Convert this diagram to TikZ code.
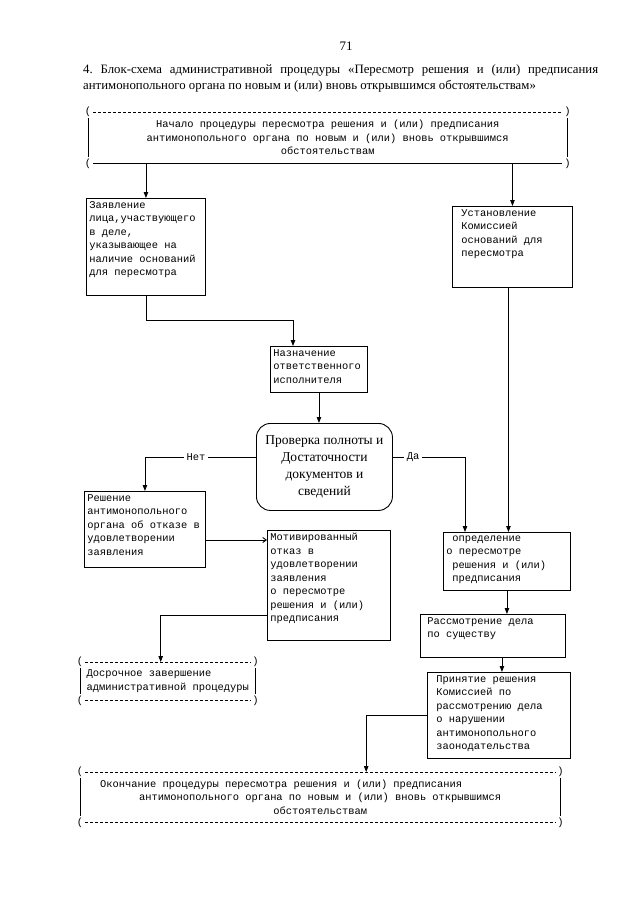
\documentclass[tikz,border=0pt]{standalone}
\usepackage{fontspec}
\setmainfont{Liberation Serif}
\setmonofont{Liberation Mono}
\usetikzlibrary{arrows.meta,calc}
\frenchspacing
\newcommand{\boxtext}[3]{\parbox[c][#2][t]{#1}{\raggedright #3}}
\tikzset{
  mono/.style={font=\ttfamily\fontsize{10.4}{13.5}\selectfont},
  procbox/.style={draw, line width=0.9pt, rectangle, inner sep=3pt, anchor=north west, mono},
  ln/.style={line width=0.9pt},
  arr/.style={line width=0.9pt, -{Triangle[length=6pt,width=4.5pt]}},
  openarr/.style={line width=0.9pt, -{Straight Barb[length=3.5pt,width=5pt]}},
  dashln/.style={line width=0.8pt, dash pattern=on 3pt off 2pt},
  lbl/.style={mono, fill=white, inner xsep=3pt, inner ysep=1pt},
  paren/.style={mono, inner sep=0pt},
  termbox/.style={inner sep=0pt, anchor=north west, mono, align=center}
}
\begin{document}
\begin{tikzpicture}[x=1pt,y=-1pt]
\useasboundingbox (0,0) rectangle (640,905);
\fill[white] (0,0) rectangle (640,905);

% header
\node[font=\fontsize{13}{15}\selectfont] (pnum) at (346,46) {71};
\node[anchor=north west, inner sep=0pt, font=\fontsize{12.8}{16}\selectfont] (title) at (83,64)
  {\parbox{515pt}{\frenchspacing\noindent 4. Блок-схема административной процедуры «Пересмотр решения и (или) предписания\linebreak антимонопольного органа по новым и (или) вновь открывшимся обстоятельствам»}};

% top terminal box
\node[termbox, minimum width=479, minimum height=51] (top) at (88,112)
  {Начало процедуры пересмотра решения и (или) предписания\\антимонопольного органа по новым и (или) вновь открывшимся\\обстоятельствам};
\draw[dashln] ($(top.north west)+(5,0)$) -- ($(top.north east)+(-5,0)$);
\draw[ln] ($(top.south west)+(5,0)$) -- ($(top.south east)+(-5,0)$);
\draw[ln] ($(top.north west)+(0,6)$) -- ($(top.south west)+(0,-6)$);
\draw[ln] ($(top.north east)+(0,6)$) -- ($(top.south east)+(0,-6)$);
\node[paren] (tp1) at (top.north west) {(};
\node[paren] (tp2) at (top.north east) {)};
\node[paren] (tp3) at (top.south west) {(};
\node[paren] (tp4) at (top.south east) {)};

% process boxes
\node[procbox] (zayav) at (86,198) {\boxtext{113pt}{91pt}{Заявление\\лица,участвующего\\в деле,\\указывающее на\\наличие оснований\\для пересмотра}};
\node[procbox] (ustan) at (452,206) {\boxtext{114pt}{75pt}{\hspace*{6pt}Установление\\\hspace*{6pt}Комиссией\\\hspace*{6pt}оснований для\\\hspace*{6pt}пересмотра}};
\node[procbox] (naznach) at (270,346) {\boxtext{91pt}{40pt}{Назначение\\ответственного\\исполнителя}};
\node[draw, ln, rounded corners=14pt, minimum width=136, minimum height=87, anchor=north west,
      align=center, font=\fontsize{13.5}{17}\selectfont] (dec) at (256,423)
  {Проверка полноты и\\Достаточности\\документов и\\сведений};
\node[procbox] (reshenie) at (84,491) {\boxtext{115pt}{70pt}{Решение\\антимонопольного\\органа об отказе в\\удовлетворении\\заявления}};
\node[procbox] (motiv) at (267,530) {\boxtext{117pt}{104pt}{Мотивированный\\отказ в\\удовлетворении\\заявления\\о пересмотре\\решения и (или)\\предписания}};
\node[procbox] (opred) at (443,532) {\boxtext{121pt}{52pt}{\hspace*{6pt}определение\\о пересмотре\\\hspace*{6pt}решения и (или)\\\hspace*{6pt}предписания}};
\node[procbox] (rassm) at (420,614) {\boxtext{139pt}{37pt}{\hspace*{4pt}Рассмотрение дела\\\hspace*{4pt}по существу}};
\node[procbox] (prin) at (427,672) {\boxtext{137pt}{80pt}{\hspace*{6pt}Принятие решения\\\hspace*{6pt}Комиссией по\\\hspace*{6pt}рассмотрению дела\\\hspace*{6pt}о нарушении\\\hspace*{6pt}антимонопольного\\\hspace*{6pt}заонодательства}};

% early termination box
\node[termbox, minimum width=175, minimum height=38, align=left] (dosroch) at (80,662)
  {Досрочное завершение\\административной процедуры};
\draw[dashln] ($(dosroch.north west)+(5,0)$) -- ($(dosroch.north east)+(-5,0)$);
\draw[dashln] ($(dosroch.south west)+(5,0)$) -- ($(dosroch.south east)+(-5,0)$);
\draw[ln] ($(dosroch.north west)+(0,6)$) -- ($(dosroch.south west)+(0,-6)$);
\draw[ln] ($(dosroch.north east)+(0,6)$) -- ($(dosroch.south east)+(0,-6)$);
\node[paren] (dp1) at (dosroch.north west) {(};
\node[paren] (dp2) at (dosroch.north east) {)};
\node[paren] (dp3) at (dosroch.south west) {(};
\node[paren] (dp4) at (dosroch.south east) {)};

% bottom terminal box
\node[termbox, minimum width=480, minimum height=50] (bot) at (80,772)
  {Окончание процедуры пересмотра решения и (или) предписания\hspace*{78pt}\\антимонопольного органа по новым и (или) вновь открывшимся\\обстоятельствам};
\draw[dashln] ($(bot.north west)+(5,0)$) -- ($(bot.north east)+(-5,0)$);
\draw[dashln] ($(bot.south west)+(5,0)$) -- ($(bot.south east)+(-5,0)$);
\draw[ln] ($(bot.north west)+(0,6)$) -- ($(bot.south west)+(0,-6)$);
\draw[ln] ($(bot.north east)+(0,6)$) -- ($(bot.south east)+(0,-6)$);
\node[paren] (bp1) at (bot.north west) {(};
\node[paren] (bp2) at (bot.north east) {)};
\node[paren] (bp3) at (bot.south west) {(};
\node[paren] (bp4) at (bot.south east) {)};

% connector anchor points
\coordinate (nazIn) at ($(naznach.north west)+(23,0)$);
\coordinate (decW) at ($(dec.west)+(0,-10)$);
\coordinate (decE) at ($(dec.east)+(0,-10)$);
\coordinate (opIn) at ($(opred.north west)+(22,0)$);
\coordinate (usOut) at ($(ustan.south)+(-4,0)$);
\coordinate (reOut) at ($(reshenie.north east)+(0,49)$);
\coordinate (moOut) at ($(motiv.north west)+(0,85)$);
\coordinate (doIn) at ($(dosroch.north)+(-7,0)$);
\coordinate (prIn) at ($(prin.north)+(3,0)$);
\coordinate (boIn) at ($(bot.north)+(46,0)$);

% connectors
\draw[arr] (zayav.north |- top.south) -- (zayav.north);
\draw[arr] (ustan.north |- top.south) -- (ustan.north);
\draw[arr] (zayav.south) -- ($(zayav.south)+(0,25)$) -| (nazIn);
\draw[arr] (naznach.south) -- (naznach.south |- dec.north);
\draw[arr] (decW) -- node[lbl, pos=0.54] {Нет} (decW -| reshenie.north) -- (reshenie.north);
\draw[arr] (decE) -- node[lbl, pos=0.28] {Да} (decE -| opIn) -- (opIn);
\draw[arr] (usOut) -- (usOut |- opred.north);
\draw[openarr] (reOut) -- (reOut -| motiv.west);
\draw[arr] (moOut) -| (doIn);
\draw[arr] (opred.south) -- (opred.south |- rassm.north);
\draw[arr] (prIn |- rassm.south) -- (prIn);
\draw[arr] (prin.west) -| (boIn);
\end{tikzpicture}
\end{document}
